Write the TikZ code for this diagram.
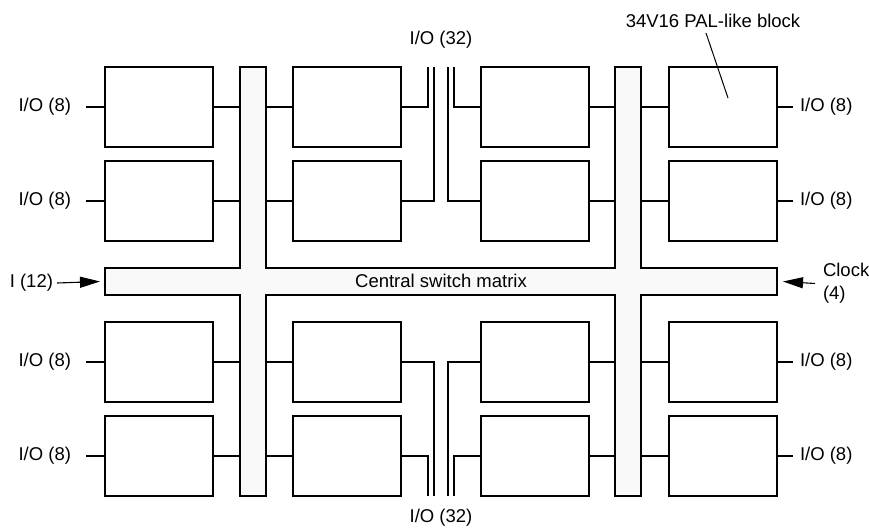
\documentclass[tikz,border=0pt]{standalone}
\usepackage{fontspec}
\setmainfont{Liberation Sans}
\usetikzlibrary{arrows.meta}
\definecolor{barfill}{RGB}{249,249,249}
\begin{document}
\begin{tikzpicture}[x=1pt,y=-1pt,
  every node/.style={inner sep=0pt,outer sep=0pt,font=\fontsize{18.5}{23}\selectfont},
  pal/.style={draw,line width=1.1pt,minimum width=108pt,minimum height=80pt},
  bar/.style={draw,fill=barfill,line width=1.1pt},
  wire/.style={line width=1.1pt},
  arr/.style={line width=1.1pt,-{Triangle[length=20pt,width=11pt]}}]
\useasboundingbox (0,0) rectangle (869,531);
% switch matrix bars
\node[bar,minimum width=26pt,minimum height=429pt] (vL) at (253,281.5) {};
\node[bar,minimum width=26pt,minimum height=429pt] (vR) at (628,281.5) {};
\node[bar,minimum width=672pt,minimum height=27pt] (hb) at (441,281.5) {};
\fill[barfill] (240.6,267.4) rectangle (265.4,295.6);
\fill[barfill] (239.4,268.6) rectangle (266.6,294.4);
\fill[barfill] (615.6,267.4) rectangle (640.4,295.6);
\fill[barfill] (614.4,268.6) rectangle (641.6,294.4);
\node at (441,281) {Central switch matrix};
% PAL blocks
\foreach \c/\x in {1/159,2/347,3/535,4/723}{
  \foreach \r/\y in {1/107,2/201,3/362,4/456}{
    \node[pal] (b\r\c) at (\x,\y) {};
  }
}
% block to switch matrix wires
\foreach \r in {1,2,3,4}{
  \draw[wire] (b\r1.east) -- (b\r1.east -| vL.west);
  \draw[wire] (vL.east |- b\r2.west) -- (b\r2.west);
  \draw[wire] (b\r3.east) -- (b\r3.east -| vR.west);
  \draw[wire] (vR.east |- b\r4.west) -- (b\r4.west);
}
% I/O (32) buses
\node (iotop) at (441,40) {I/O (32)};
\node (iobot) at (441,518) {I/O (32)};
\coordinate (ta) at (428,67);
\coordinate (tb) at (434,67);
\coordinate (tc) at (448,67);
\coordinate (td) at (454,67);
\coordinate (ba) at (428,496);
\coordinate (bb) at (434,496);
\coordinate (bc) at (448,496);
\coordinate (bd) at (454,496);
\draw[wire] (b12.east) -| (ta);
\draw[wire] (b22.east) -| (tb);
\draw[wire] (b23.west) -| (tc);
\draw[wire] (b13.west) -| (td);
\draw[wire] (b42.east) -| (ba);
\draw[wire] (b32.east) -| (bb);
\draw[wire] (b33.west) -| (bc);
\draw[wire] (b43.west) -| (bd);
% I/O (8) labels
\foreach \r/\y in {1/107,2/201,3/362,4/456}{
  \node[anchor=east] (l\r) at (71,\y) {I/O (8)};
  \draw[wire] ([xshift=15pt]l\r.east) -- (b\r1.west);
  \node[anchor=west] (r\r) at (800,\y) {I/O (8)};
  \draw[wire] (b\r4.east) -- ([xshift=-7pt]r\r.west);
}
% inputs
\node[anchor=east] (in12) at (53,283) {I (12)};
\draw[arr] ([xshift=4pt]in12.east) -- ([xshift=-5pt]hb.west);
\node[anchor=west,align=left] (clk) at (823,283.5) {Clock\\(4)};
\draw[arr] ([xshift=-8pt]clk.west) -- ([xshift=6pt]hb.east);
% callout
\node (pal) at (713,21) {34V16 PAL-like block};
\coordinate (palpt) at (728,98);
\draw[line width=1pt] (706,33) -- (palpt);
\end{tikzpicture}
\end{document}
